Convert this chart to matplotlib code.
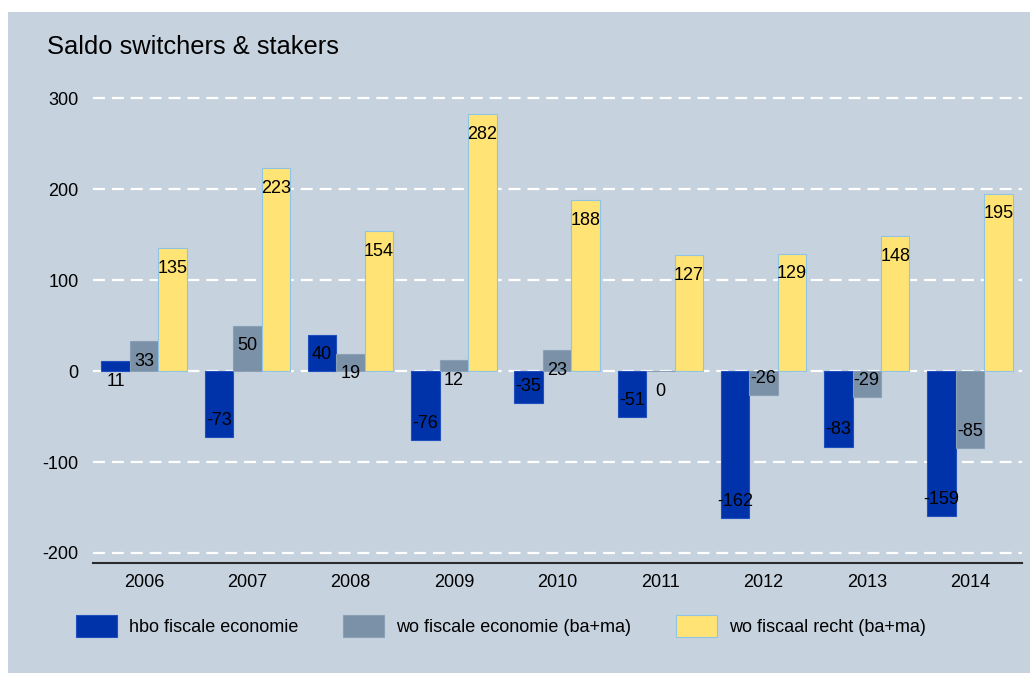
import numpy as np
import matplotlib
matplotlib.use("Agg")
import matplotlib.pyplot as plt
from matplotlib.patches import Rectangle

plt.rcParams['font.family'] = ['Liberation Sans', 'DejaVu Sans']
plt.rcParams['lines.scale_dashes'] = False
plt.rcParams['axes.unicode_minus'] = False

years = ['2006', '2007', '2008', '2009', '2010', '2011', '2012', '2013', '2014']
hbo_fe = [11, -73, 40, -76, -35, -51, -162, -83, -159]
wo_fe = [33, 50, 19, 12, 23, 0, -26, -29, -85]
wo_fr = [135, 223, 154, 282, 188, 127, 129, 148, 195]
series_names = ['hbo fiscale economie', 'wo fiscale economie (ba+ma)', 'wo fiscaal recht (ba+ma)']

colors = ['#0033aa', '#7b91a8', '#ffe374']
edges = ['#1f4fbf', '#8aa0b6', '#8fc4e4']
bg = '#c6d2de'
fs = 13

W, H = 1035, 673
fig = plt.figure(figsize=(W / 100, H / 100), dpi=100)
fig.patch.set_facecolor('white')
fig.patches.append(Rectangle((8 / W, 0), (1030 - 8) / W, (H - 12) / H,
                             transform=fig.transFigure, facecolor=bg, edgecolor='none', zorder=-10))

ax = fig.add_axes([92.5 / W, 110 / H, (1021.6 - 92.5) / W, (563 - 89) / H])
ax.set_facecolor('none')

x = np.arange(len(years))
bw = 0.276
for i, vals in enumerate([hbo_fe, wo_fe, wo_fr]):
    pos = x + (i - 1) * bw
    ax.bar(pos, vals, width=bw, color=colors[i], edgecolor=edges[i], linewidth=0.8,
           label=series_names[i], zorder=3)
    for px, v in zip(pos, vals):
        if v >= 0:
            ax.annotate(str(v), (px, v), xytext=(0, -14.5), textcoords='offset points',
                        ha='center', va='center', fontsize=fs, zorder=5)
        else:
            ax.annotate(str(v), (px, v), xytext=(0, 12), textcoords='offset points',
                        ha='center', va='center', fontsize=fs, zorder=5)

ax.set_xlim(-0.5, len(years) - 0.5)
ax.set_ylim(-211, 310)
ax.set_yticks([300, 200, 100, 0, -100, -200])
ax.set_xticks(x)
ax.set_xticklabels(years)
for t in [300, 200, 100, 0, -100, -200]:
    ax.axhline(t, color='white', linewidth=1.6, dashes=(8.6, 5.0), zorder=1)

for s in ['top', 'right', 'left']:
    ax.spines[s].set_visible(False)
ax.spines['bottom'].set_color('#2b2b2b')
ax.spines['bottom'].set_linewidth(1.5)
ax.spines['bottom'].set_position(('data', -211))
ax.tick_params(axis='both', length=0, labelsize=fs)
ax.tick_params(axis='y', pad=10)
ax.tick_params(axis='x', pad=8)

fig.text(47 / W, 1 - 47 / H, 'Saldo switchers & stakers', fontsize=18.4, va='center', ha='left')

leg = ax.legend(loc='center left', bbox_to_anchor=(76 / W, 1 - 626 / H), bbox_transform=fig.transFigure,
                ncol=3, frameon=False, fontsize=fs, handlelength=2.27, handleheight=1.44,
                handletextpad=0.66, columnspacing=2.5, borderpad=0, borderaxespad=0)

fig.savefig('out.png', dpi=100)
